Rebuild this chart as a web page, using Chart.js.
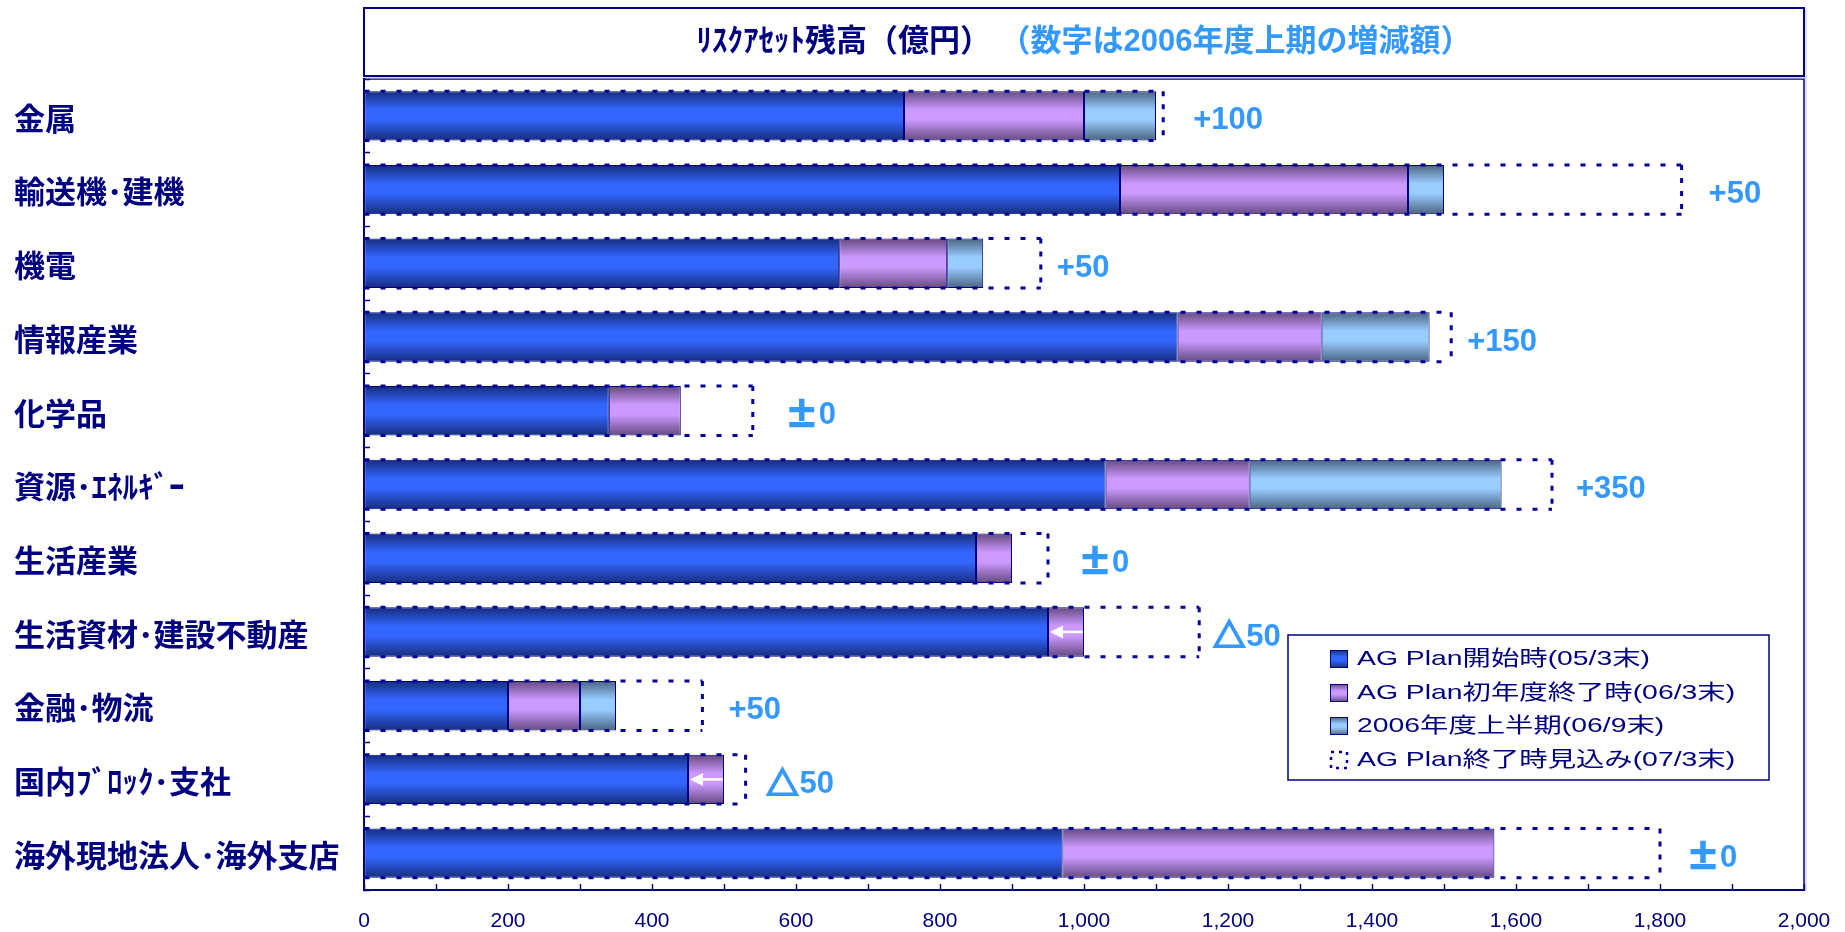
<!DOCTYPE html>
<html><head><meta charset="utf-8">
<script src="https://cdn.jsdelivr.net/npm/chart.js@4.4.1/dist/chart.umd.min.js"></script>
<style>html,body{margin:0;padding:0;background:#fff;}#wrap{position:relative;width:1845px;height:932px;}canvas{display:block;}</style>
</head><body><div id="wrap"><canvas id="c"></canvas></div>
<script>
// ---------------- data ----------------
const categories = ['金属','輸送機･建機','機電','情報産業','化学品','資源･ｴﾈﾙｷﾞｰ','生活産業','生活資材･建設不動産','金融･物流','国内ﾌﾞﾛｯｸ･支社','海外現地法人･海外支店'];
const seriesNames = ['AG Plan開始時(05/3末)','AG Plan初年度終了時(06/3末)','2006年度上半期(06/9末)','AG Plan終了時見込み(07/3末)'];
const start0503    = [750, 1050, 660, 1130, 340, 1030, 850, 950, 200, 450, 970];
const end0603      = [1000,1450, 810, 1330, 440, 1230, 900,1000, 300, 500,1570];
const half0609     = [1100,1500, 860, 1480, 440, 1580, 900, 950, 350, 450,1570];
const forecast0703 = [1110,1830, 940, 1510, 540, 1650, 950,1160, 470, 530,1800];
const changeLabels = ['+100','+50','+50','+150','±0','+350','±0','△50','+50','△50','±0'];
const titleMain = 'ﾘｽｸｱｾｯﾄ残高（億円）';
const titleSub = ' （数字は2006年度上期の増減額）';
const xMin = 0, xMax = 2000, xTickStep = 100, xLabelStep = 200;

// ---------------- layout / style ----------------
const NAVY = '#000080';
const SKY = '#3399FF';
const BAR_PCT = 0.67;
const LABEL_GAP = [30,27,16,16,36,24,34,17,26,24,30];
const COLORS = [
  {bright:'#3366FF', dark:'#172d7c'},
  {bright:'#CC99FF', dark:'#644a7e'},
  {bright:'#99CCFF', dark:'#4a6480'}
];
const CJK = "'Noto Sans CJK JP'";
const LAT = "'Liberation Sans', Arial";

function makeGrad(ctx, y0, y1, c) {
  const g = ctx.createLinearGradient(0, y0, 0, y1);
  g.addColorStop(0, c.dark); g.addColorStop(0.38, c.bright);
  g.addColorStop(0.58, c.bright); g.addColorStop(1, c.dark);
  return g;
}
function barGradient(c) {
  return (ctx) => {
    const chart = ctx.chart, ys = chart.scales.y;
    if (ctx.type !== 'data' || !ys || !chart.chartArea) return c.bright;
    const band = Math.abs(ys.getPixelForValue(1) - ys.getPixelForValue(0));
    const h = band * BAR_PCT, yc = ys.getPixelForValue(ctx.dataIndex);
    return makeGrad(chart.ctx, yc - h / 2, yc + h / 2, c);
  };
}

const dsStart = start0503.slice();
const dsEnd = start0503.map((s, i) => [s, end0603[i]]);
const dsHalf = end0603.map((e, i) => half0609[i] > e ? [e, half0609[i]] : null);
const dsFcst = forecast0703.map(v => [xMin, v]);

// ---------------- plugins ----------------
const decorations = {
  id: 'decorations',
  afterDatasetsDraw(chart) {
    const ctx = chart.ctx, xs = chart.scales.x;
    const fm = chart.getDatasetMeta(3);
    ctx.save();
    ctx.strokeStyle = '#000099'; ctx.lineWidth = 3; ctx.lineCap = 'butt';
    fm.data.forEach((el) => {
      const p = el.getProps(['x','y','base','height'], true);
      const t = p.y - p.height / 2, b = p.y + p.height / 2;
      ctx.setLineDash([5, 11]);
      ctx.beginPath(); ctx.moveTo(p.base, t); ctx.lineTo(p.x, t); ctx.stroke();
      ctx.beginPath(); ctx.moveTo(p.base, b); ctx.lineTo(p.x, b); ctx.stroke();
      ctx.setLineDash([5, 8]);
      ctx.beginPath(); ctx.moveTo(p.x, t); ctx.lineTo(p.x, b); ctx.stroke();
    });
    ctx.restore();
    const em = chart.getDatasetMeta(1);
    ctx.save();
    ctx.strokeStyle = '#fff'; ctx.fillStyle = '#fff'; ctx.lineWidth = 2.5;
    em.data.forEach((el, i) => {
      if (half0609[i] >= end0603[i]) return;
      const p = el.getProps(['x','y'], true);
      const tip = xs.getPixelForValue(half0609[i]) + 2;
      const from = xs.getPixelForValue(end0603[i]) - 1;
      ctx.beginPath(); ctx.moveTo(from, p.y); ctx.lineTo(tip + 10, p.y); ctx.stroke();
      ctx.beginPath(); ctx.moveTo(tip, p.y); ctx.lineTo(tip + 13, p.y - 6.5); ctx.lineTo(tip + 13, p.y + 6.5); ctx.closePath(); ctx.fill();
    });
    ctx.restore();
    ctx.save();
    ctx.fillStyle = SKY; ctx.strokeStyle = SKY; ctx.textAlign = 'left'; ctx.textBaseline = 'middle';
    fm.data.forEach((el, i) => {
      const p = el.getProps(['x','y'], true);
      let x = p.x + LABEL_GAP[i];
      const y = p.y + 5;
      let s = changeLabels[i];
      if (s[0] === '±' || s[0] === '△') {
        ctx.font = `bold 32px ${CJK}`;
        ctx.lineWidth = 2.2;
        ctx.fillText(s[0], x - 3, y - 2);
        ctx.strokeText(s[0], x - 3, y - 2);
        x += ctx.measureText(s[0]).width - 2;
        s = s.slice(1);
      }
      ctx.font = `bold 31px ${LAT}`;
      ctx.fillText(s, x, y);
    });
    ctx.restore();
  },
  afterDraw(chart) {
    const ctx = chart.ctx, a = chart.chartArea;
    ctx.save();
    ctx.strokeStyle = '#c4c4dc'; ctx.lineWidth = 1;
    ctx.beginPath(); ctx.moveTo(a.left, a.top - 2); ctx.lineTo(a.right + 2, a.top - 2); ctx.lineTo(a.right + 2, a.bottom); ctx.stroke();
    ctx.strokeStyle = NAVY; ctx.lineWidth = 1.5;
    ctx.beginPath(); ctx.moveTo(a.left, a.top); ctx.lineTo(a.right, a.top); ctx.lineTo(a.right, a.bottom); ctx.stroke();
    const tl = a.left, tr = a.right, tt = 8, tb = 76;
    ctx.strokeStyle = '#c4c4dc'; ctx.lineWidth = 1;
    ctx.strokeRect(tl + 2, tt + 2, tr - tl, tb - tt);
    ctx.fillStyle = '#fff'; ctx.fillRect(tl, tt, tr - tl, tb - tt);
    ctx.strokeStyle = NAVY; ctx.lineWidth = 2;
    ctx.strokeRect(tl, tt, tr - tl, tb - tt);
    ctx.font = `bold 31px ${LAT}, ${CJK}`;
    ctx.textBaseline = 'middle'; ctx.textAlign = 'left';
    const w1 = ctx.measureText(titleMain).width, w2 = ctx.measureText(titleSub).width;
    const x = (tl + tr) / 2 - (w1 + w2) / 2;
    const ty = (tt + tb) / 2;
    ctx.fillStyle = NAVY; ctx.fillText(titleMain, x, ty);
    ctx.fillStyle = SKY; ctx.fillText(titleSub, x + w1, ty);
    const L = {l: 1288, t: 635, r: 1769, b: 780};
    ctx.fillStyle = '#fff'; ctx.fillRect(L.l, L.t, L.r - L.l, L.b - L.t);
    ctx.strokeStyle = NAVY; ctx.lineWidth = 1.5; ctx.strokeRect(L.l, L.t, L.r - L.l, L.b - L.t);
    const rowY = [659, 693, 726, 760];
    ctx.font = `21px ${LAT}, ${CJK}`;
    seriesNames.forEach((name, i) => {
      const y = rowY[i], mx = 1330, ms = 18;
      if (i < 3) {
        ctx.fillStyle = makeGrad(ctx, y - ms / 2, y + ms / 2, COLORS[i]);
        ctx.fillRect(mx, y - ms / 2, ms, ms);
        ctx.strokeStyle = NAVY; ctx.lineWidth = 1; ctx.setLineDash([]);
        ctx.strokeRect(mx + 0.5, y - ms / 2 + 0.5, ms - 1, ms - 1);
      } else {
        ctx.strokeStyle = '#000099'; ctx.lineWidth = 2.5; ctx.setLineDash([3, 5]);
        ctx.strokeRect(mx + 1, y - ms / 2 + 1, ms - 2, ms - 2);
        ctx.setLineDash([]);
      }
      ctx.save();
      ctx.fillStyle = NAVY; ctx.textBaseline = 'middle';
      ctx.translate(1357, y); ctx.scale(1.35, 1);
      ctx.fillText(name, 0, 0);
      ctx.restore();
    });
    ctx.restore();
  }
};

// ---------------- chart ----------------
new Chart(document.getElementById('c'), {
  type: 'bar',
  data: {
    labels: categories,
    datasets: [
      {label: seriesNames[0], data: dsStart, backgroundColor: barGradient(COLORS[0])},
      {label: seriesNames[1], data: dsEnd, backgroundColor: barGradient(COLORS[1])},
      {label: seriesNames[2], data: dsHalf, backgroundColor: barGradient(COLORS[2])},
      {label: seriesNames[3], data: dsFcst, backgroundColor: 'rgba(0,0,0,0)', borderWidth: 0}
    ]
  },
  options: {
    indexAxis: 'y',
    responsive: true, maintainAspectRatio: false, animation: false,
    datasets: {bar: {barPercentage: BAR_PCT, categoryPercentage: 1, borderColor: NAVY, borderWidth: 1, borderSkipped: false}},
    layout: {padding: {top: 79, left: 14, right: 41, bottom: 0}},
    plugins: {legend: {display: false}, tooltip: {enabled: false}, title: {display: false}},
    scales: {
      x: {
        type: 'linear', min: xMin, max: xMax, stacked: false,
        border: {color: NAVY, width: 2},
        grid: {drawOnChartArea: false, drawTicks: true, tickLength: -6, color: NAVY, tickColor: NAVY, tickWidth: 1.5},
        ticks: {stepSize: xTickStep, autoSkip: false, maxRotation: 0, padding: 25, color: NAVY,
          font: {family: "'Liberation Sans', Arial, sans-serif", size: 21},
          callback: (v) => (v % xLabelStep === 0 ? Number(v).toLocaleString('en-US') : '')},
        afterFit: (s) => { s.height = 42; s.paddingLeft = 0; s.paddingRight = 0; }
      },
      y: {
        stacked: true, offset: true,
        border: {color: NAVY, width: 2},
        grid: {offset: true, drawOnChartArea: false, drawTicks: true, tickLength: -6, color: NAVY, tickColor: NAVY, tickWidth: 1.5},
        ticks: {crossAlign: 'far', padding: 10, color: NAVY, autoSkip: false, labelOffset: 2,
          font: {family: CJK, size: 31, weight: 'bold'}},
        afterFit: (s) => { s.width = 350; s.paddingTop = 0; s.paddingBottom = 0; }
      }
    }
  },
  plugins: [decorations]
});
</script></body></html>
